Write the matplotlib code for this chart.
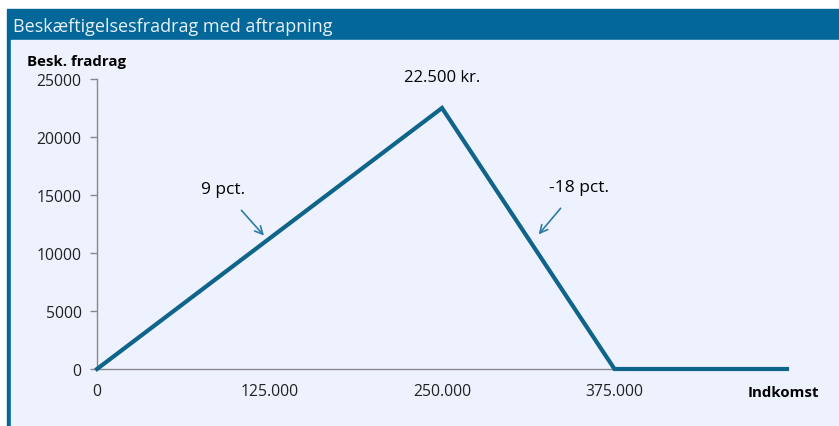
import matplotlib.pyplot as plt
from matplotlib.patches import Rectangle

# data
indkomst = [0, 250000, 375000, 500000]
fradrag = [0, 22500, 0, 0]
xticks = [0, 125000, 250000, 375000]
xticklabels = ['0', '125.000', '250.000', '375.000']
yticks = [0, 5000, 10000, 15000, 20000, 25000]

plt.rcParams['font.family'] = ['Open Sans', 'DejaVu Sans']

W, H = 839, 427
fig = plt.figure(figsize=(W/100, H/100), dpi=100)
fig.patch.set_facecolor('white')

dark = '#03679A'
bg = '#EEF2FE'

# frame + title bar (behind the axes)
fig.patches.append(Rectangle((7/W, 0), 1, 1 - 10/H, transform=fig.transFigure, color=dark, zorder=-10))
fig.patches.append(Rectangle((11/W, 0), 1, 1 - 41/H, transform=fig.transFigure, color=bg, zorder=-9))
fig.text(13/W, 1 - 27/H, 'Beskæftigelsesfradrag med aftrapning', color='#E8F0F8',
         fontsize=13, va='center', ha='left')

ax = fig.add_axes([97/W, 1 - 370/H, (787 - 97)/W, (370 - 80)/H])
ax.set_facecolor('none')
ax.plot(indkomst, fradrag, color='#0E6489', lw=3, solid_joinstyle='miter', clip_on=False, zorder=3)

ax.set_xlim(0, 500000)
ax.set_ylim(0, 25000)
ax.set_xticks(xticks)
ax.set_xticklabels(xticklabels)
ax.set_yticks(yticks)
ax.tick_params(axis='x', length=0, pad=10, labelsize=11.3, colors='#222222')
ax.tick_params(axis='y', length=5, width=1, color='#888888', pad=6, labelsize=11.3, labelcolor='#222222')
for s in ['top', 'right']:
    ax.spines[s].set_visible(False)
for s in ['left', 'bottom']:
    ax.spines[s].set_color('#888888')
    ax.spines[s].set_linewidth(1)

fig.text(27/W, 1 - 62/H, 'Besk. fradrag', fontsize=10.8, fontweight='bold', va='center', ha='left')
fig.text(783/W, 1 - 393/H, 'Indkomst', fontsize=10.8, fontweight='bold', va='center', ha='center')

ax.annotate('22.500 kr.', xy=(250000, 22500), xytext=(0, 22), textcoords='offset points',
            ha='center', va='center', fontsize=12)

arrow = dict(arrowstyle='->', color='#2E7BA6', lw=1.2, mutation_scale=14)
ax.annotate('9 pct.', xy=(121000, 11500), xytext=(91000, 15500),
            ha='center', va='center', fontsize=12.5,
            arrowprops=dict(arrow, shrinkA=10, shrinkB=0))
ax.annotate('-18 pct.', xy=(320000, 11600), xytext=(349000, 15700),
            ha='center', va='center', fontsize=12.5,
            arrowprops=dict(arrow, shrinkA=10, shrinkB=0))

fig.savefig('out.png', dpi=100, facecolor=fig.get_facecolor())
